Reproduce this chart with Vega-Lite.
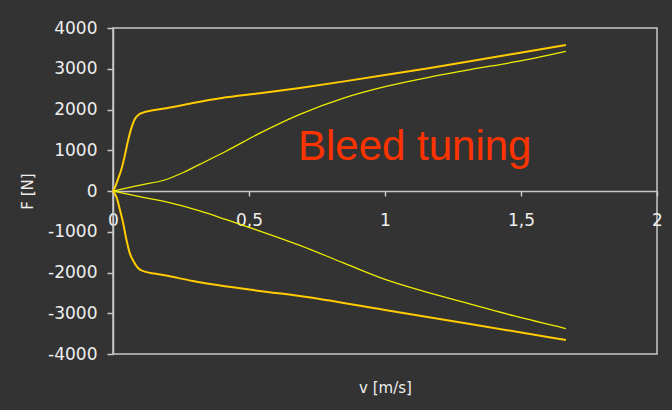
{
  "$schema": "https://vega.github.io/schema/vega-lite/v6.json",
  "width": 544,
  "height": 326,
  "autosize": "none",
  "padding": {"left": 113, "top": 28, "right": 15, "bottom": 56},
  "background": "#333333",
  "config": {
    "view": {"stroke": "#c8c8c8", "strokeWidth": 1.5, "fill": "#333333"},
    "font": "DejaVu Sans"
  },
  "datasets": {
    "curves": [
      {"curve": "A", "kind": "knee", "v": 0, "F": 0},
      {"curve": "A", "kind": "knee", "v": 0.007, "F": 83},
      {"curve": "A", "kind": "knee", "v": 0.018, "F": 287},
      {"curve": "A", "kind": "knee", "v": 0.031, "F": 532},
      {"curve": "A", "kind": "knee", "v": 0.043, "F": 859},
      {"curve": "A", "kind": "knee", "v": 0.055, "F": 1227},
      {"curve": "A", "kind": "knee", "v": 0.068, "F": 1556},
      {"curve": "A", "kind": "knee", "v": 0.08, "F": 1760},
      {"curve": "A", "kind": "knee", "v": 0.093, "F": 1865},
      {"curve": "A", "kind": "knee", "v": 0.11, "F": 1924},
      {"curve": "A", "kind": "knee", "v": 0.141, "F": 1975},
      {"curve": "A", "kind": "knee", "v": 0.19, "F": 2025},
      {"curve": "A", "kind": "knee", "v": 0.294, "F": 2160},
      {"curve": "A", "kind": "knee", "v": 0.4, "F": 2280},
      {"curve": "A", "kind": "knee", "v": 0.54, "F": 2397},
      {"curve": "A", "kind": "knee", "v": 0.687, "F": 2530},
      {"curve": "A", "kind": "knee", "v": 0.85, "F": 2690},
      {"curve": "A", "kind": "knee", "v": 1.0, "F": 2845},
      {"curve": "A", "kind": "knee", "v": 1.16, "F": 3015},
      {"curve": "A", "kind": "knee", "v": 1.318, "F": 3190},
      {"curve": "A", "kind": "knee", "v": 1.476, "F": 3370},
      {"curve": "A", "kind": "knee", "v": 1.665, "F": 3583},
      {"curve": "B", "kind": "gradual", "v": 0, "F": 0},
      {"curve": "B", "kind": "gradual", "v": 0.049, "F": 70},
      {"curve": "B", "kind": "gradual", "v": 0.1, "F": 145},
      {"curve": "B", "kind": "gradual", "v": 0.19, "F": 270},
      {"curve": "B", "kind": "gradual", "v": 0.26, "F": 460},
      {"curve": "B", "kind": "gradual", "v": 0.319, "F": 655},
      {"curve": "B", "kind": "gradual", "v": 0.417, "F": 982},
      {"curve": "B", "kind": "gradual", "v": 0.54, "F": 1420},
      {"curve": "B", "kind": "gradual", "v": 0.687, "F": 1882},
      {"curve": "B", "kind": "gradual", "v": 0.845, "F": 2275},
      {"curve": "B", "kind": "gradual", "v": 1.0, "F": 2561},
      {"curve": "B", "kind": "gradual", "v": 1.16, "F": 2790},
      {"curve": "B", "kind": "gradual", "v": 1.318, "F": 2986},
      {"curve": "B", "kind": "gradual", "v": 1.476, "F": 3166},
      {"curve": "B", "kind": "gradual", "v": 1.665, "F": 3428},
      {"curve": "C", "kind": "gradual", "v": 0, "F": 0},
      {"curve": "C", "kind": "gradual", "v": 0.098, "F": -138},
      {"curve": "C", "kind": "gradual", "v": 0.208, "F": -285},
      {"curve": "C", "kind": "gradual", "v": 0.319, "F": -490},
      {"curve": "C", "kind": "gradual", "v": 0.417, "F": -705},
      {"curve": "C", "kind": "gradual", "v": 0.54, "F": -982},
      {"curve": "C", "kind": "gradual", "v": 0.687, "F": -1333},
      {"curve": "C", "kind": "gradual", "v": 0.845, "F": -1758},
      {"curve": "C", "kind": "gradual", "v": 1.0, "F": -2167},
      {"curve": "C", "kind": "gradual", "v": 1.16, "F": -2494},
      {"curve": "C", "kind": "gradual", "v": 1.318, "F": -2780},
      {"curve": "C", "kind": "gradual", "v": 1.476, "F": -3067},
      {"curve": "C", "kind": "gradual", "v": 1.665, "F": -3377},
      {"curve": "D", "kind": "knee", "v": 0, "F": 0},
      {"curve": "D", "kind": "knee", "v": 0.0135, "F": -163},
      {"curve": "D", "kind": "knee", "v": 0.025, "F": -449},
      {"curve": "D", "kind": "knee", "v": 0.037, "F": -776},
      {"curve": "D", "kind": "knee", "v": 0.049, "F": -1185},
      {"curve": "D", "kind": "knee", "v": 0.061, "F": -1512},
      {"curve": "D", "kind": "knee", "v": 0.075, "F": -1718},
      {"curve": "D", "kind": "knee", "v": 0.093, "F": -1897},
      {"curve": "D", "kind": "knee", "v": 0.117, "F": -1978},
      {"curve": "D", "kind": "knee", "v": 0.153, "F": -2027},
      {"curve": "D", "kind": "knee", "v": 0.19, "F": -2069},
      {"curve": "D", "kind": "knee", "v": 0.294, "F": -2210},
      {"curve": "D", "kind": "knee", "v": 0.54, "F": -2454},
      {"curve": "D", "kind": "knee", "v": 0.687, "F": -2577},
      {"curve": "D", "kind": "knee", "v": 1.0, "F": -2920},
      {"curve": "D", "kind": "knee", "v": 1.318, "F": -3271},
      {"curve": "D", "kind": "knee", "v": 1.665, "F": -3656}
    ],
    "notes": [
      {"v": 0.68, "F": 761, "label": "Bleed tuning"}
    ]
  },
  "layer": [
    {
      "data": {"name": "curves"},
      "mark": {"type": "line", "interpolate": "monotone"},
      "encoding": {
        "x": {
          "field": "v", "type": "quantitative",
          "scale": {"domain": [0, 2], "nice": false, "zero": false},
          "axis": {
            "title": "v [m/s]",
            "values": [0, 0.5, 1, 1.5, 2],
            "labelExpr": "replace(toString(datum.value), '.', ',')",
            "orient": "bottom",
            "offset": -163,
            "grid": false,
            "domainColor": "#c8c8c8",
            "domainWidth": 1.5,
            "tickColor": "#c8c8c8",
            "tickWidth": 1.5,
            "tickSize": 5,
            "labelPadding": 16,
            "labelFontSize": 17,
            "labelColor": "#eeeeee",
            "labelFlush": false,
            "labelOverlap": false,
            "titleFontSize": 15,
            "titleFontWeight": "normal",
            "titleColor": "#eeeeee",
            "titleX": 272,
            "titleY": 196,
            "titleAlign": "center",
            "titleBaseline": "middle"
          }
        },
        "y": {
          "field": "F", "type": "quantitative",
          "scale": {"domain": [-4000, 4000], "nice": false},
          "axis": {
            "title": "F [N]",
            "values": [-4000, -3000, -2000, -1000, 0, 1000, 2000, 3000, 4000],
            "labelExpr": "toString(datum.value)",
            "grid": false,
            "domainColor": "#c8c8c8",
            "domainWidth": 1.5,
            "tickColor": "#c8c8c8",
            "tickWidth": 1.5,
            "tickSize": 6,
            "labelPadding": 10,
            "labelFontSize": 17,
            "labelColor": "#eeeeee",
            "labelFlush": false,
            "labelOverlap": false,
            "titleFontSize": 15,
            "titleFontWeight": "normal",
            "titleColor": "#eeeeee",
            "titleX": -86,
            "titleY": 163,
            "titleAngle": -90,
            "titleAlign": "center",
            "titleBaseline": "middle"
          }
        },
        "detail": {"field": "curve", "type": "nominal"},
        "color": {
          "field": "kind", "type": "nominal",
          "scale": {"domain": ["knee", "gradual"], "range": ["#ffcc00", "#eeee00"]},
          "legend": null
        },
        "strokeWidth": {
          "field": "kind", "type": "nominal",
          "scale": {"domain": ["knee", "gradual"], "range": [2, 1.3]},
          "legend": null
        }
      }
    },
    {
      "data": {"name": "notes"},
      "mark": {"type": "text", "align": "left", "baseline": "alphabetic", "fontSize": 42, "color": "#ff3300", "font": "Liberation Sans"},
      "encoding": {
        "x": {"field": "v", "type": "quantitative"},
        "y": {"field": "F", "type": "quantitative"},
        "text": {"field": "label", "type": "nominal"}
      }
    }
  ]
}
